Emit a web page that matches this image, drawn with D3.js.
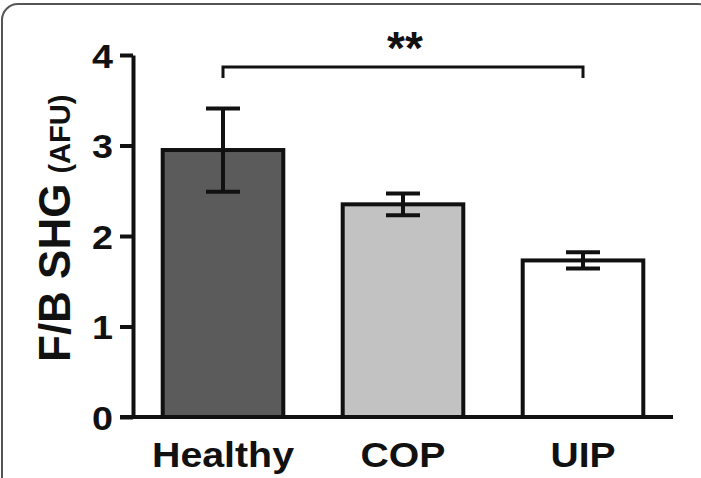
<!DOCTYPE html>
<html>
<head>
<meta charset="utf-8">
<script src="https://cdn.jsdelivr.net/npm/d3@7"></script>
<style>
  body { margin: 0; background: #fff; }
  text { font-family: "Liberation Sans", Arial, Helvetica, sans-serif; font-weight: bold; fill: #111; }
</style>
</head>
<body>
<svg id="chart"></svg>
<script>
// values
const categories = ['Healthy', 'COP', 'UIP'];
const means = [2.95, 2.35, 1.73];
const sems = [0.46, 0.12, 0.09];
const fills = ['#5b5b5b', '#c2c2c2', '#ffffff'];
const yTicks = [0, 1, 2, 3, 4];
const sigPair = ['Healthy', 'UIP'];
const sigLabel = '**';

const width = 701, height = 478;

const svg = d3.select('#chart')
    .attr('width', width)
    .attr('height', height);

// rounded frame (runs off the right and bottom edges)
svg.append('rect')
    .attr('x', 2).attr('y', 4)
    .attr('width', 712).attr('height', 500)
    .attr('rx', 16)
    .attr('fill', 'none')
    .attr('stroke', '#555')
    .attr('stroke-width', 2);

const yScale = d3.scaleLinear()
    .domain([0, 4])
    .range([417, 55]);

const xScale = d3.scaleBand()
    .domain(categories)
    .range([133, 673])
    .paddingInner(0.33)
    .paddingOuter(0.165);

const data = categories.map((c, i) => ({ cat: c, mean: means[i], sem: sems[i], fill: fills[i] }));

// bars
svg.selectAll('.bar')
    .data(data)
    .enter()
    .append('rect')
    .attr('class', 'bar')
    .attr('x', d => xScale(d.cat))
    .attr('y', d => yScale(d.mean))
    .attr('width', xScale.bandwidth())
    .attr('height', d => yScale(0) - yScale(d.mean))
    .attr('fill', d => d.fill)
    .attr('stroke', '#111')
    .attr('stroke-width', 4);

// error bars
const capW = 34;
const err = svg.selectAll('.err')
    .data(data)
    .enter()
    .append('g')
    .attr('class', 'err')
    .attr('transform', d => `translate(${xScale(d.cat) + xScale.bandwidth() / 2},0)`)
    .attr('stroke', '#111')
    .attr('stroke-width', 4);

err.append('line')
    .attr('x1', 0).attr('x2', 0)
    .attr('y1', d => yScale(d.mean + d.sem))
    .attr('y2', d => yScale(d.mean - d.sem));
err.append('line')
    .attr('x1', -capW / 2).attr('x2', capW / 2)
    .attr('y1', d => yScale(d.mean + d.sem))
    .attr('y2', d => yScale(d.mean + d.sem));
err.append('line')
    .attr('x1', -capW / 2).attr('x2', capW / 2)
    .attr('y1', d => yScale(d.mean - d.sem))
    .attr('y2', d => yScale(d.mean - d.sem));

// y axis
const yAxis = d3.axisLeft(yScale)
    .tickValues(yTicks)
    .tickFormat(d3.format('d'))
    .tickSize(13)
    .tickSizeOuter(0)
    .tickPadding(7);

const yAxisG = svg.append('g')
    .attr('transform', `translate(${xScale.range()[0]},0)`)
    .call(yAxis);

yAxisG.select('.domain')
    .attr('stroke', '#111')
    .attr('stroke-width', 4);
yAxisG.selectAll('.tick line')
    .attr('stroke', '#111')
    .attr('stroke-width', 4);
yAxisG.selectAll('.tick text')
    .attr('fill', '#111')
    .style('font-size', '34px')
    .attr('dy', '0.36em')
    .attr('textLength', 21)
    .attr('lengthAdjust', 'spacingAndGlyphs');

// x axis baseline
svg.append('line')
    .attr('x1', xScale.range()[0] - 13)
    .attr('x2', xScale.range()[1])
    .attr('y1', yScale(0))
    .attr('y2', yScale(0))
    .attr('stroke', '#111')
    .attr('stroke-width', 4);

// category labels
const labelW = { Healthy: 142, COP: 85, UIP: 65 };
svg.selectAll('.xlab')
    .data(categories)
    .enter()
    .append('text')
    .attr('class', 'xlab')
    .attr('x', d => xScale(d) + xScale.bandwidth() / 2)
    .attr('y', 467)
    .attr('text-anchor', 'middle')
    .style('font-size', '35px')
    .attr('textLength', d => labelW[d])
    .attr('lengthAdjust', 'spacingAndGlyphs')
    .text(d => d);

// y axis title
const yTitle = svg.append('text')
    .attr('transform', 'translate(70,362) rotate(-90)')
    .attr('text-anchor', 'start')
    .style('font-size', '44px');
yTitle.append('tspan').text('F/B SHG');
yTitle.append('tspan').attr('dx', 10).style('font-size', '29px').text('(AFU)');

// significance bracket
const bx1 = xScale(sigPair[0]) + xScale.bandwidth() / 2;
const bx2 = xScale(sigPair[1]) + xScale.bandwidth() / 2;
const by = 67;
svg.append('path')
    .attr('d', `M${bx1},${by + 11}V${by}H${bx2}V${by + 11}`)
    .attr('fill', 'none')
    .attr('stroke', '#111')
    .attr('stroke-width', 3);

svg.append('text')
    .attr('x', (bx1 + bx2) / 2 + 2)
    .attr('y', 64)
    .attr('text-anchor', 'middle')
    .style('font-size', '46px')
    .text(sigLabel);
</script>
</body>
</html>
